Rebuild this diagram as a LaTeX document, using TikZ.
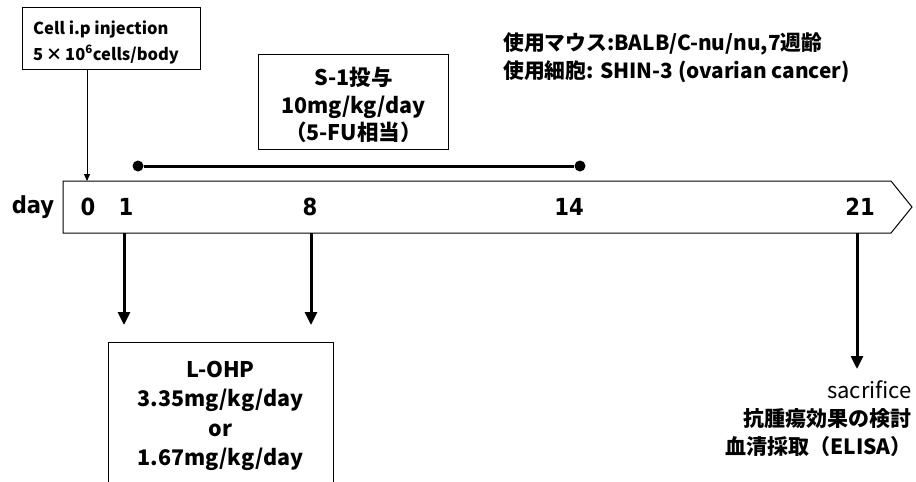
\documentclass[tikz,border=0pt]{standalone}
\usepackage{fontspec}
\setmainfont{Noto Sans CJK JP}
\newfontfamily\dayfont{DejaVu Sans Condensed}
\usetikzlibrary{arrows.meta}
\tikzset{
  box/.style={draw=black, line width=0.9pt, fill=white, inner sep=0pt},
  thinarrow/.style={line width=0.9pt, -{Triangle[length=7pt,width=6pt]}},
  bigarrow/.style={line width=3pt, -{Triangle[length=13pt,width=12pt]}},
  daylbl/.style={font=\dayfont\bfseries\fontsize{23.5}{23.5}\selectfont, inner sep=0pt},
  dot/.style={circle, fill=black, minimum size=11pt, inner sep=0pt},
}
\begin{document}
\begin{tikzpicture}[x=1pt,y=-1pt]
\useasboundingbox[fill=white] (0,0) rectangle (916,482);
% cell box
\node[box, minimum width=178pt, minimum height=62pt] (cell) at (111.5,38.5) {};
\node[anchor=west, inner sep=0pt, align=left,
  font=\bfseries\fontsize{16.5}{26}\selectfont] (celltxt) at (33,42)
  {Cell i.p injection\\5\,×\,10\textsuperscript{6}cells/body};
% timeline
\draw[line width=1pt, fill=white] (63,181) -- (891,181) -- (912,207) -- (891,233) -- (63,233) -- cycle;
\coordinate (tltop) at (0,181);
\coordinate (tlbot) at (0,233);
\node[daylbl] (day) at (33,207) {day};
\node[daylbl] (d0) at (88,207) {0};
\node[daylbl] (d1) at (126,207) {1};
\node[daylbl] (d8) at (310,207) {8};
\node[daylbl] (d14) at (569,207) {14};
\node[daylbl] (d21) at (860,207) {21};
% injection arrow
\coordinate (c0) at (87,181);
\draw[thinarrow] (cell.south -| c0) -- (c0);
% S-1 box and bar
\node[box, minimum width=190pt, minimum height=95pt] (s1box) at (353.5,101.5) {};
\node[inner sep=0pt, align=center,
  font=\bfseries\fontsize{21.5}{27.5}\selectfont] (s1txt) at (353.5,105)
  {S-1投与\\10mg/kg/day\\（5-FU相当）};
\node[dot] (s0) at (138,166) {};
\node[dot] (s1) at (580,166) {};
\draw[line width=3pt] (s0) -- (s1);
% top right info
\node[anchor=north west, inner sep=0pt, align=left,
  font=\bfseries\fontsize{20.8}{28}\selectfont] (info) at (503,32)
  {使用マウス:BALB/C-nu/nu,7週齢\\使用細胞: SHIN-3 (ovarian cancer)};
% L-OHP box
\node[box, minimum width=225pt, minimum height=142pt] (lohp) at (220.5,413) {};
\node[inner sep=0pt, align=center,
  font=\bfseries\fontsize{21.5}{29.5}\selectfont] (lohptxt) at (220.5,416)
  {L-OHP\\3.35mg/kg/day\\or\\1.67mg/kg/day};
% arrows from timeline
\coordinate (a1) at (124,325);
\coordinate (a8) at (311,325);
\coordinate (a21) at (857,369);
\draw[bigarrow] (a1 |- tlbot) -- (a1);
\draw[bigarrow] (a8 |- tlbot) -- (a8);
\draw[bigarrow] (a21 |- tlbot) -- (a21);
% sacrifice text
\node[anchor=north east, inner sep=0pt, align=right,
  font=\fontsize{21}{28}\selectfont] (sac) at (912,380)
  {\fontsize{22}{28}\selectfont sacrifice\\\textbf{抗腫瘍効果の検討}\\\textbf{血清採取（ELISA）}};
\end{tikzpicture}
\end{document}
